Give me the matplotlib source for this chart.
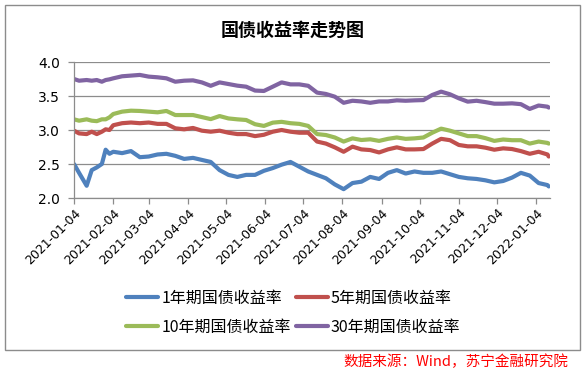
import pandas as pd
import matplotlib
matplotlib.use('Agg')
import matplotlib.pyplot as plt
import matplotlib.dates as mdates
from matplotlib.patches import Rectangle

plt.rcParams['font.family'] = ['Noto Sans CJK SC', 'DejaVu Sans']

#? ================================= dados
datas = [
    '2021-01-04', '2021-01-08', '2021-01-14', '2021-01-18', '2021-01-22', '2021-01-26',
    '2021-01-29', '2021-02-01', '2021-02-04', '2021-02-11', '2021-02-18', '2021-02-25',
    '2021-03-04', '2021-03-11', '2021-03-18', '2021-03-25', '2021-04-01', '2021-04-08',
    '2021-04-15', '2021-04-22', '2021-04-29', '2021-05-06', '2021-05-13', '2021-05-20',
    '2021-05-27', '2021-06-03', '2021-06-10', '2021-06-17', '2021-06-24', '2021-07-01',
    '2021-07-08', '2021-07-15', '2021-07-22', '2021-07-29', '2021-08-05', '2021-08-12',
    '2021-08-19', '2021-08-26', '2021-09-02', '2021-09-09', '2021-09-16', '2021-09-23',
    '2021-09-30', '2021-10-07', '2021-10-14', '2021-10-21', '2021-10-28', '2021-11-04',
    '2021-11-11', '2021-11-18', '2021-11-25', '2021-12-02', '2021-12-09', '2021-12-16',
    '2021-12-23', '2021-12-30', '2022-01-06', '2022-01-13', '2022-01-14',
]

y1 = [2.50, 2.37, 2.18, 2.41, 2.45, 2.50, 2.71, 2.65, 2.68, 2.66, 2.69, 2.60,
      2.61, 2.64, 2.65, 2.62, 2.575, 2.59, 2.56, 2.53, 2.41, 2.34, 2.31, 2.34,
      2.34, 2.40, 2.44, 2.49, 2.53, 2.46, 2.39, 2.34, 2.29, 2.20, 2.13, 2.22,
      2.24, 2.31, 2.28, 2.37, 2.41, 2.36, 2.39, 2.37, 2.37, 2.39, 2.35, 2.31,
      2.29, 2.28, 2.26, 2.23, 2.25, 2.30, 2.37, 2.33, 2.22, 2.19, 2.17]

y5 = [2.99, 2.95, 2.94, 2.975, 2.94, 2.975, 3.01, 3.00, 3.07, 3.10, 3.11, 3.10,
      3.11, 3.09, 3.09, 3.025, 3.01, 3.03, 2.99, 2.975, 2.99, 2.96, 2.94, 2.94,
      2.91, 2.93, 2.975, 3.00, 2.975, 2.96, 2.96, 2.83, 2.80, 2.745, 2.68, 2.755,
      2.715, 2.705, 2.67, 2.715, 2.745, 2.715, 2.715, 2.72, 2.80, 2.87, 2.85, 2.78,
      2.76, 2.76, 2.74, 2.71, 2.73, 2.72, 2.69, 2.65, 2.68, 2.64, 2.61]

y10 = [3.157, 3.137, 3.157, 3.137, 3.13, 3.157, 3.157, 3.186, 3.235, 3.27, 3.284, 3.28,
       3.27, 3.26, 3.28, 3.22, 3.22, 3.22, 3.19, 3.16, 3.205, 3.17, 3.157, 3.147,
       3.085, 3.06, 3.108, 3.12, 3.10, 3.09, 3.06, 2.94, 2.926, 2.89, 2.83, 2.877,
       2.853, 2.863, 2.84, 2.87, 2.89, 2.87, 2.877, 2.89, 2.96, 3.02, 2.99, 2.95,
       2.91, 2.91, 2.88, 2.84, 2.86, 2.85, 2.85, 2.80, 2.83, 2.81, 2.80]

y30 = [3.75, 3.725, 3.735, 3.725, 3.735, 3.71, 3.735, 3.745, 3.76, 3.79, 3.80, 3.81,
       3.785, 3.775, 3.76, 3.71, 3.725, 3.73, 3.70, 3.65, 3.70, 3.676, 3.652, 3.637,
       3.58, 3.574, 3.637, 3.70, 3.671, 3.671, 3.65, 3.55, 3.53, 3.49, 3.40, 3.43,
       3.42, 3.40, 3.42, 3.42, 3.436, 3.43, 3.436, 3.44, 3.515, 3.564, 3.525, 3.466,
       3.417, 3.43, 3.41, 3.387, 3.387, 3.392, 3.38, 3.31, 3.36, 3.343, 3.33]

series = ['1年期国债收益率', '5年期国债收益率', '10年期国债收益率', '30年期国债收益率']
cores = ['#4F81BD', '#C0504D', '#9BBB59', '#8064A2']

df = pd.DataFrame({'data': pd.to_datetime(datas),
                   series[0]: y1, series[1]: y5, series[2]: y10, series[3]: y30})

ticks = pd.date_range('2021-01-01', '2022-01-01', freq='MS') + pd.Timedelta(days=3)

#? ================================= grafico
fig = plt.figure(figsize=(5.86, 3.75), dpi=100)
fig.patch.set_facecolor('white')
fig.add_artist(Rectangle((5/586, 25/375), 575/586, 345/375, transform=fig.transFigure,
                         fill=False, edgecolor='#8C8C8C', linewidth=1.0))

ax = fig.add_axes([74/586, 177/375, 476/586, 136/375])

linhas = []
for nome, cor in zip(series, cores):
    l, = ax.plot(df['data'], df[nome], color=cor, linewidth=3.0, label=nome,
                 solid_capstyle='round', solid_joinstyle='round')
    linhas.append(l)

ax.set_ylim(2.0, 4.0)
ax.set_yticks([2.0, 2.5, 3.0, 3.5, 4.0])
ax.yaxis.set_major_formatter(plt.FormatStrFormatter('%.1f'))
ax.set_xlim(pd.Timestamp('2021-01-04'), pd.Timestamp('2022-01-15'))
ax.set_xticks(ticks)
ax.xaxis.set_major_formatter(mdates.DateFormatter('%Y-%m-%d'))

ax.grid(True, axis='y', color='#8C8C8C', linewidth=0.9)
ax.set_axisbelow(True)
for s in ['top', 'right']:
    ax.spines[s].set_visible(False)
for s in ['left', 'bottom']:
    ax.spines[s].set_color('#8C8C8C')
    ax.spines[s].set_linewidth(0.9)

ax.tick_params(axis='both', color='#8C8C8C', length=4, width=0.9)
ax.tick_params(axis='y', labelsize=10, pad=6)
ax.tick_params(axis='x', labelsize=9, pad=2)
for lab in ax.get_yticklabels() + ax.get_xticklabels():
    lab.set_family('DejaVu Sans')
for lab in ax.get_xticklabels():
    lab.set_rotation(45)
    lab.set_ha('right')
    lab.set_rotation_mode('anchor')

fig.text(0.5, 1 - 30/375, '国债收益率走势图', ha='center', va='center',
         fontsize=13, fontweight='bold')

# ordem para que as linhas fiquem 1/5 em cima e 10/30 embaixo
ordem = [0, 2, 1, 3]
fig.legend([linhas[i] for i in ordem], [series[i] for i in ordem],
           loc='center', bbox_to_anchor=(293.5/586, 1 - 312.5/375), ncol=2,
           frameon=False, fontsize=11.5, handlelength=2.0, handletextpad=0.2,
           columnspacing=0.3, labelspacing=0.75, borderpad=0)

fig.text(568/586, 1 - 362/375, '数据来源：Wind，苏宁金融研究院', ha='right', va='center',
         fontsize=10.5, color='#FF0000', style='italic')

fig.savefig('out.png', dpi=100, facecolor='white')
